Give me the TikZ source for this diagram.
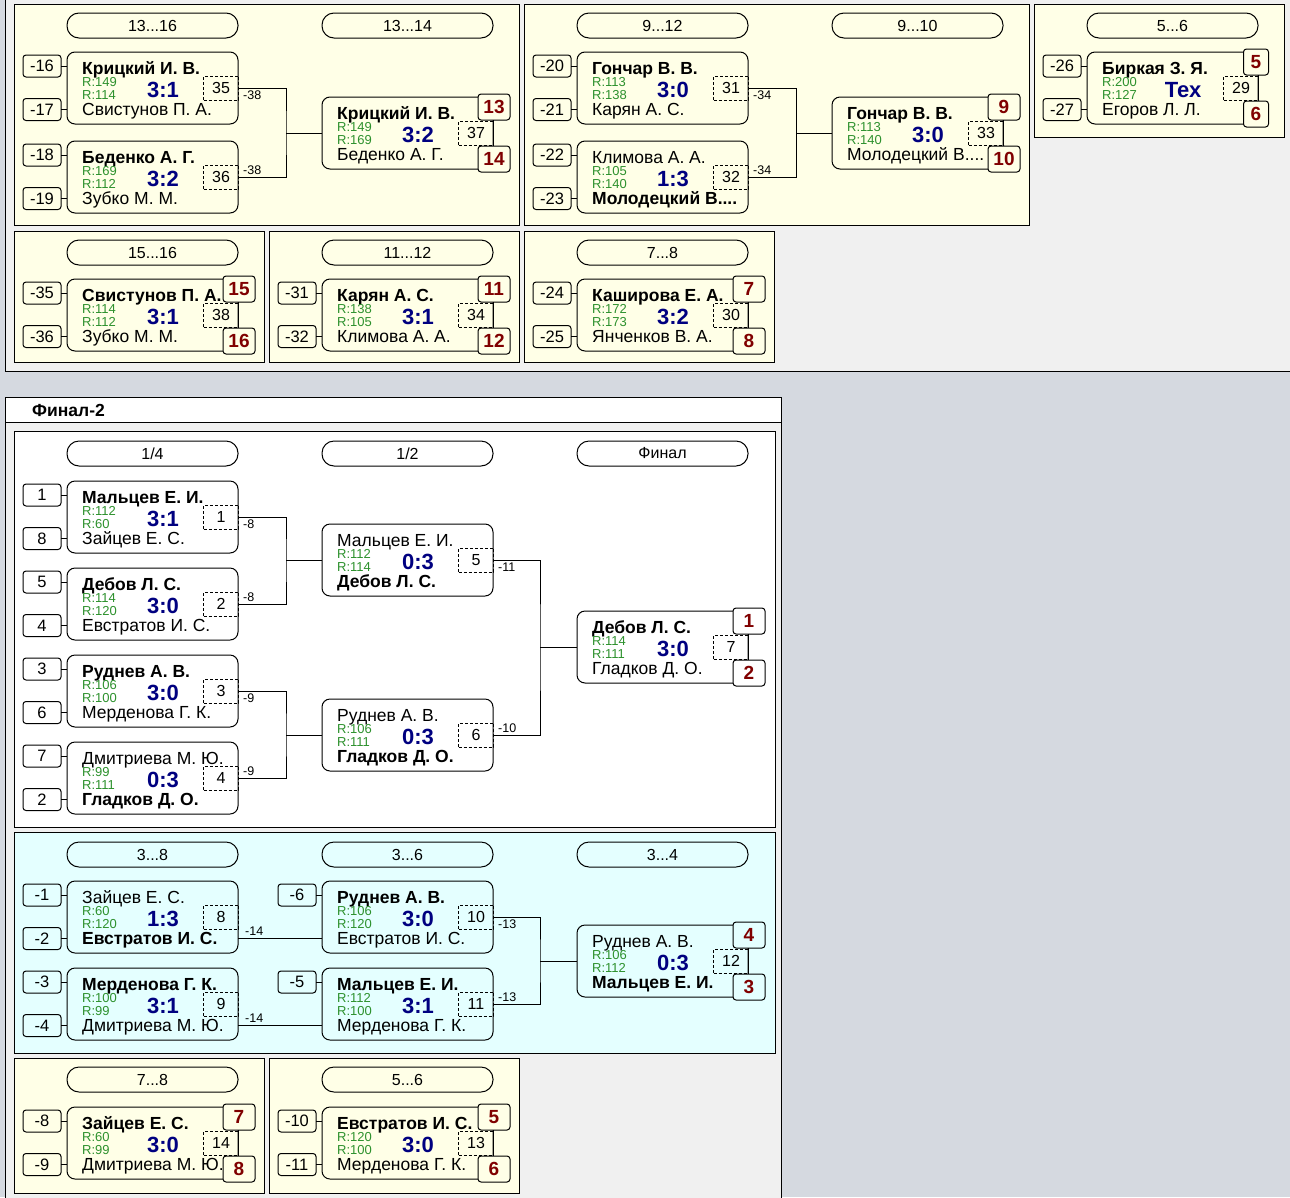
\documentclass[tikz,border=0pt]{standalone}
\usepackage{fontspec}
\setmainfont{Liberation Sans}
\definecolor{cream}{RGB}{255,255,231}
\definecolor{cyanp}{RGB}{228,255,255}
\definecolor{bgtop}{RGB}{240,240,240}
\definecolor{bgbot}{RGB}{213,217,224}
\definecolor{navy}{RGB}{0,0,128}
\definecolor{rgreen}{RGB}{45,145,45}
\definecolor{dred}{RGB}{128,0,0}
\colorlet{pfill}{cream}
\tikzset{
 base/.style={inner sep=0pt, outer sep=0pt, line width=1pt},
 mbox/.style={base, draw, rounded corners=8pt, minimum width=171pt, minimum height=72pt},
 nm/.style={inner sep=0pt, font=\fontsize{17.5}{20}\selectfont},
 rt/.style={inner sep=0pt, text=rgreen, font=\fontsize{13}{14}\selectfont},
 sc/.style={inner sep=0pt, text=navy, font=\bfseries\fontsize{22}{24}\selectfont},
 dbox/.style={base, draw, dash pattern=on 3pt off 2pt, minimum width=35pt, minimum height=24pt, font=\fontsize{16}{18}\selectfont},
 sbox/.style={base, draw, rounded corners=3pt, minimum width=38pt, minimum height=22pt, font=\fontsize{16.5}{18}\selectfont},
 pbox/.style={base, draw, fill=pfill, rounded corners=3pt, minimum width=32pt, minimum height=26pt, text=dred, font=\bfseries\fontsize{19}{21}\selectfont},
 pill/.style={base, draw, rounded corners=12pt, minimum width=171pt, minimum height=25pt, font=\fontsize{16}{18}\selectfont},
 lbb/.style={inner sep=0pt, anchor=north west, font=\fontsize{12.5}{14}\selectfont},
 lba/.style={inner sep=0pt, anchor=south west, font=\fontsize{12.5}{14}\selectfont},
 conn/.style={line width=1pt},
 panel/.style={draw, line width=1pt},
}
% match: name, x, y, top, r1, r2, score, bottom, num
\newcommand\mtch[9]{%
 \node[mbox] (#1) at ({#2+85.5},{#3+36}) {};
 \node[nm, anchor=base west] (#1a) at ({#2+15},{#3+22}) {#4};
 \node[rt, anchor=base west] (#1r) at ({#2+15},{#3+34}) {R:#5};
 \node[rt, anchor=base west] (#1q) at ({#2+15},{#3+47.5}) {R:#6};
 \node[sc, anchor=base] (#1c) at ({#2+96},{#3+45}) {#7};
 \node[nm, anchor=base west] (#1b) at ({#2+15},{#3+63}) {#8};
 \node[dbox] (#1n) at ({#2+154},{#3+36}) {#9};
}
% seeds: match name, x, y, s1, s2
\newcommand\seeds[5]{%
 \node[sbox] (#1x) at ({#2-25},{#3+14}) {#4};
 \node[sbox] (#1y) at ({#2-25},{#3+57.5}) {#5};
 \draw[conn] (#1x.east) -- (#1x.east -| #1.west);
 \draw[conn] (#1y.east) -- (#1y.east -| #1.west);
}
\newcommand\seedone[4]{%
 \node[sbox] (#1x) at ({#2-25},{#3+14}) {#4};
 \draw[conn] (#1x.east) -- (#1x.east -| #1.west);
}
% placements: match name, x, y, p1, p2
\newcommand\plc[5]{%
 \node[pbox] (#1p) at ({#2+172},{#3+10}) {#4};
 \node[pbox] (#1w) at ({#2+172},{#3+62}) {#5};
 \draw[conn] (#1p.south -| #1.east) -- (#1w.north -| #1.east);
}
\begin{document}
\begin{tikzpicture}[x=1pt,y=-1pt]
\useasboundingbox (0,0) rectangle (1290,1197);
\fill[bgbot] (0,0) rectangle (1290,1197);
\filldraw[fill=bgtop, line width=1pt] (5,-3) rectangle (1295,371);

% ---------- top panels ----------
\filldraw[panel, fill=cream] (14,4) rectangle (519,225);
\filldraw[panel, fill=cream] (524,4) rectangle (1029,225);
\filldraw[panel, fill=cream] (1034,4) rectangle (1284,137);
\filldraw[panel, fill=cream] (14,231) rectangle (264,362);
\filldraw[panel, fill=cream] (269,231) rectangle (519,362);
\filldraw[panel, fill=cream] (524,231) rectangle (774,362);

% Panel A
\node[pill] (hA1) at (152.5,25.5) {13...16};
\node[pill] (hA2) at (407.5,25.5) {13...14};
\mtch{A1}{67}{52}{\bfseries Крицкий И. В.}{149}{114}{3:1}{Свистунов П. А.}{35}
\seeds{A1}{67}{52}{-16}{-17}
\mtch{A2}{67}{141}{\bfseries Беденко А. Г.}{169}{112}{3:2}{Зубко М. М.}{36}
\seeds{A2}{67}{141}{-18}{-19}
\mtch{A3}{322}{97}{\bfseries Крицкий И. В.}{149}{169}{3:2}{Беденко А. Г.}{37}
\plc{A3}{322}{97}{13}{14}
\coordinate (jA) at (286,133);
\draw[conn] (A1.east) -| (jA) |- (A2.east);
\draw[conn] (jA) -- (A3.west);
\node[lbb] (lA1) at (243,91) {-38};
\node[lba] (lA2) at (243,175) {-38};

% Panel B
\node[pill] (hB1) at (662.5,25.5) {9...12};
\node[pill] (hB2) at (917.5,25.5) {9...10};
\mtch{B1}{577}{52}{\bfseries Гончар В. В.}{113}{138}{3:0}{Карян А. С.}{31}
\seeds{B1}{577}{52}{-20}{-21}
\mtch{B2}{577}{141}{Климова А. А.}{105}{140}{1:3}{\bfseries Молодецкий В....}{32}
\seeds{B2}{577}{141}{-22}{-23}
\mtch{B3}{832}{97}{\bfseries Гончар В. В.}{113}{140}{3:0}{Молодецкий В....}{33}
\plc{B3}{832}{97}{9}{10}
\coordinate (jB) at (796,133);
\draw[conn] (B1.east) -| (jB) |- (B2.east);
\draw[conn] (jB) -- (B3.west);
\node[lbb] (lB1) at (753,91) {-34};
\node[lba] (lB2) at (753,175) {-34};

% Panel C
\node[pill] (hC1) at (1172.5,25.5) {5...6};
\mtch{C1}{1087}{52}{\bfseries Биркая З. Я.}{200}{127}{Тех}{Егоров Л. Л.}{29}
\seeds{C1}{1087}{52}{-26}{-27}
\node[pbox, minimum width=25pt] (C1p) at (1256,62) {5};
\node[pbox, minimum width=25pt] (C1w) at (1256,114) {6};
\draw[conn] (C1p.south -| C1.east) -- (C1w.north -| C1.east);

% Panel D
\node[pill] (hD1) at (152.5,252.5) {15...16};
\mtch{D1}{67}{279}{\bfseries Свистунов П. А.}{114}{112}{3:1}{Зубко М. М.}{38}
\seeds{D1}{67}{279}{-35}{-36}
\plc{D1}{67}{279}{15}{16}

% Panel E
\node[pill] (hE1) at (407.5,252.5) {11...12};
\mtch{E1}{322}{279}{\bfseries Карян А. С.}{138}{105}{3:1}{Климова А. А.}{34}
\seeds{E1}{322}{279}{-31}{-32}
\plc{E1}{322}{279}{11}{12}

% Panel F
\node[pill] (hF1) at (662.5,252.5) {7...8};
\mtch{F1}{577}{279}{\bfseries Каширова Е. А.}{172}{173}{3:2}{Янченков В. А.}{30}
\seeds{F1}{577}{279}{-24}{-25}
\plc{F1}{577}{279}{7}{8}

% ---------- Final-2 ----------
\filldraw[fill=bgtop, line width=1pt] (5,397) rectangle (781,1205);
\filldraw[fill=white, line width=1pt] (5,397) rectangle (781,422);
\node[inner sep=0pt, anchor=west, font=\bfseries\fontsize{17.5}{19}\selectfont] (ttl) at (32,410) {Финал-2};

\filldraw[panel, fill=white] (14,431) rectangle (775,827);
\colorlet{pfill}{white}
\node[pill] (hM1) at (152.5,453.5) {1/4};
\node[pill] (hM2) at (407.5,453.5) {1/2};
\node[pill] (hM3) at (662.5,453.5) {Финал};
\mtch{M1}{67}{481}{\bfseries Мальцев Е. И.}{112}{60}{3:1}{Зайцев Е. С.}{1}
\seeds{M1}{67}{481}{1}{8}
\mtch{M2}{67}{568}{\bfseries Дебов Л. С.}{114}{120}{3:0}{Евстратов И. С.}{2}
\seeds{M2}{67}{568}{5}{4}
\mtch{M3}{67}{655}{\bfseries Руднев А. В.}{106}{100}{3:0}{Мерденова Г. К.}{3}
\seeds{M3}{67}{655}{3}{6}
\mtch{M4}{67}{742}{Дмитриева М. Ю.}{99}{111}{0:3}{\bfseries Гладков Д. О.}{4}
\seeds{M4}{67}{742}{7}{2}
\mtch{M5}{322}{524}{Мальцев Е. И.}{112}{114}{0:3}{\bfseries Дебов Л. С.}{5}
\mtch{M6}{322}{699}{Руднев А. В.}{106}{111}{0:3}{\bfseries Гладков Д. О.}{6}
\mtch{M7}{577}{611}{\bfseries Дебов Л. С.}{114}{111}{3:0}{Гладков Д. О.}{7}
\plc{M7}{577}{611}{1}{2}
\coordinate (j1) at (286,560);
\draw[conn] (M1.east) -| (j1) |- (M2.east);
\draw[conn] (j1) -- (M5.west);
\coordinate (j2) at (286,735);
\draw[conn] (M3.east) -| (j2) |- (M4.east);
\draw[conn] (j2) -- (M6.west);
\coordinate (j3) at (540,647);
\draw[conn] (M5.east) -| (j3) |- (M6.east);
\draw[conn] (j3) -- (M7.west);
\node[lbb] (l1) at (243,520) {-8};
\node[lba] (l2) at (243,602) {-8};
\node[lbb] (l3) at (243,694) {-9};
\node[lba] (l4) at (243,776) {-9};
\node[lbb] (l5) at (498,563) {-11};
\node[lba] (l6) at (498,733) {-10};

% cyan panel
\filldraw[panel, fill=cyanp] (14,832) rectangle (775,1053);
\colorlet{pfill}{cyanp}
\node[pill] (hN1) at (152.5,854.5) {3...8};
\node[pill] (hN2) at (407.5,854.5) {3...6};
\node[pill] (hN3) at (662.5,854.5) {3...4};
\mtch{M8}{67}{881}{Зайцев Е. С.}{60}{120}{1:3}{\bfseries Евстратов И. С.}{8}
\seeds{M8}{67}{881}{-1}{-2}
\mtch{M9}{67}{968}{\bfseries Мерденова Г. К.}{100}{99}{3:1}{Дмитриева М. Ю.}{9}
\seeds{M9}{67}{968}{-3}{-4}
\mtch{M10}{322}{881}{\bfseries Руднев А. В.}{106}{120}{3:0}{Евстратов И. С.}{10}
\seedone{M10}{322}{881}{-6}
\mtch{M11}{322}{968}{\bfseries Мальцев Е. И.}{112}{100}{3:1}{Мерденова Г. К.}{11}
\seedone{M11}{322}{968}{-5}
\mtch{M12}{577}{925}{Руднев А. В.}{106}{112}{0:3}{\bfseries Мальцев Е. И.}{12}
\plc{M12}{577}{925}{4}{3}
\coordinate (k1) at (238,938);
\draw[conn] (k1) -- (k1 -| M10.west);
\coordinate (k2) at (238,1025);
\draw[conn] (k2) -- (k2 -| M11.west);
\node[lba] (l7) at (245,936) {-14};
\node[lba] (l8) at (245,1023) {-14};
\coordinate (j4) at (540,961);
\draw[conn] (M10.east) -| (j4) |- (M11.east);
\draw[conn] (j4) -- (M12.west);
\node[lbb] (l9) at (498,920) {-13};
\node[lba] (l10) at (498,1002) {-13};

% bottom panels
\filldraw[panel, fill=cream] (14,1058) rectangle (264,1193);
\filldraw[panel, fill=cream] (269,1058) rectangle (519,1193);
\colorlet{pfill}{cream}
\node[pill] (hG1) at (152.5,1079.5) {7...8};
\mtch{G1}{67}{1107}{\bfseries Зайцев Е. С.}{60}{99}{3:0}{Дмитриева М. Ю.}{14}
\seeds{G1}{67}{1107}{-8}{-9}
\plc{G1}{67}{1107}{7}{8}
\node[pill] (hH1) at (407.5,1079.5) {5...6};
\mtch{H1}{322}{1107}{\bfseries Евстратов И. С.}{120}{100}{3:0}{Мерденова Г. К.}{13}
\seeds{H1}{322}{1107}{-10}{-11}
\plc{H1}{322}{1107}{5}{6}
\end{tikzpicture}
\end{document}
